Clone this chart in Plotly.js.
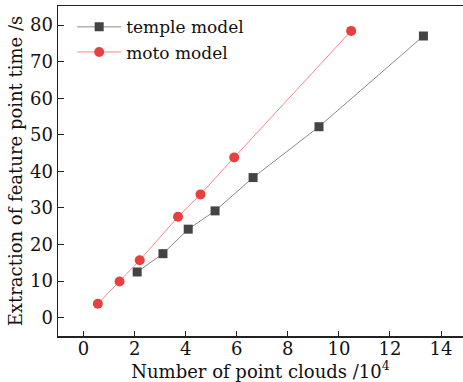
<!DOCTYPE html>
<html><head><meta charset="utf-8">
<script src="https://cdn.plot.ly/plotly-3.0.1.min.js"></script>
<style>body{margin:0;background:#fff}#c{width:463px;height:382px}</style>
</head><body><div id="c"></div>
<script>
const templeX = [2.1, 3.11, 4.1, 5.15, 6.64, 9.22, 13.31];
const templeY = [12.5, 17.5, 24.2, 29.2, 38.3, 52.2, 77.0];
const motoX = [0.56, 1.41, 2.2, 3.7, 4.58, 5.9, 10.48];
const motoY = [3.8, 9.9, 15.7, 27.6, 33.7, 43.8, 78.4];
const seriesNames = ["temple model", "moto model"];
const xTicks = [0, 2, 4, 6, 8, 10, 12, 14];
const yTicks = [0, 10, 20, 30, 40, 50, 60, 70, 80];

const font = "'DejaVu Serif', 'Liberation Serif', serif";
const traces = [
  {x: templeX, y: templeY, name: seriesNames[0], mode: "lines+markers",
   line: {color: "#8a8a8a", width: 1}, marker: {symbol: "square", size: 9, color: "#444"}},
  {x: motoX, y: motoY, name: seriesNames[1], mode: "lines+markers",
   line: {color: "#f08a8a", width: 1}, marker: {symbol: "circle", size: 10, color: "#e8403e"}}
];
const layout = {
  width: 463, height: 382,
  margin: {l: 58, r: 0, t: 6, b: 46},
  paper_bgcolor: "#fff", plot_bgcolor: "#fff",
  font: {family: font, size: 17, color: "#111"},
  showlegend: true,
  legend: {x: 0.035, y: 0.99, xanchor: "left", yanchor: "top", bgcolor: "rgba(0,0,0,0)",
           font: {family: font, size: 17, color: "#111"}, itemwidth: 44, tracegroupgap: 0},
  xaxis: {range: [-1, 14.86], tickvals: xTicks, ticks: "inside", ticklen: 5, tickcolor: "#222",
          showline: true, linecolor: "#222", linewidth: 1.5, mirror: true, showgrid: false, zeroline: false,
          tickfont: {family: font, size: 18}, ticklabelstandoff: -4,
          title: {text: "Number of point clouds /10<sup>4</sup>", font: {family: font, size: 18}, standoff: 4}},
  yaxis: {range: [-5, 85.2], tickvals: yTicks, ticks: "inside", ticklen: 6, tickcolor: "#222",
          showline: true, linecolor: "#222", linewidth: 1.5, mirror: false, showgrid: false, zeroline: false,
          tickfont: {family: font, size: 18},
          title: {text: "Extraction of feature point time /s", font: {family: font, size: 18}, standoff: 2}}
};
Plotly.newPlot("c", traces, layout, {displayModeBar: false, staticPlot: true});
</script></body></html>
